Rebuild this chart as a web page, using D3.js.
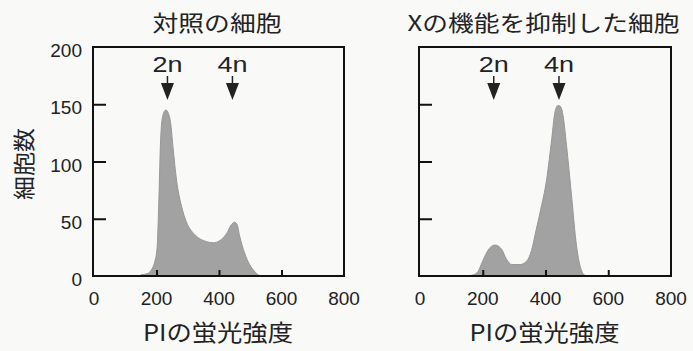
<!DOCTYPE html>
<html>
<head>
<meta charset="utf-8">
<script src="https://cdn.jsdelivr.net/npm/d3@7"></script>
<style>
  body { margin: 0; background: #f9f9f7; }
  svg { display: block; }
</style>
</head>
<body>
<div id="chart"></div>
<script>
// histogram values (PI intensity, cell count)
var ctrlX = [150, 170, 185, 195, 202, 208, 213, 220, 230, 238, 245, 253, 264, 280, 296, 323, 360, 381, 403, 424, 440, 450, 458, 466, 482, 498, 514, 525, 535];
var ctrlY = [1, 2, 6, 13, 25, 70, 118, 140, 145, 142, 134, 112, 84, 61, 47, 36, 30, 29, 31, 37, 45, 47, 45, 35, 20, 10, 4, 1, 0];

var inhX = [150, 170, 185, 195, 208, 224, 240, 250, 261, 275, 293, 319, 340, 355, 370, 383, 404, 420, 430, 440, 448, 456, 467, 483, 499, 510, 520, 530];
var inhY = [0, 1, 4, 10, 18, 25, 27, 26, 23, 15, 10, 10, 13, 22, 40, 56, 85, 120, 143, 149, 148, 140, 114, 70, 26, 9, 2, 0];

var titles = ["対照の細胞", "Xの機能を抑制した細胞"];
var peakLabels = ["2n", "4n"];
var peakPos = [235, 443];
var xTicks = [0, 200, 400, 600, 800];
var yTicks = [0, 50, 100, 150, 200];
var xLabel = "PIの蛍光強度";
var yLabel = "細胞数";

var width = 693, height = 351;
var jp = "'Noto Sans CJK JP', 'Noto Sans', sans-serif";
var latin = "'Liberation Sans', Arial, sans-serif";

var svg = d3.select("#chart").append("svg")
  .attr("width", width)
  .attr("height", height);

var panels = [
  {title: titles[0], xs: ctrlX, ys: ctrlY, left: 94, right: 344, titleW: 129, yLabels: true},
  {title: titles[1], xs: inhX, ys: inhY, left: 420, right: 671, titleW: 272, yLabels: false}
];

var y = d3.scaleLinear().domain([0, 200]).range([276, 47]);

panels.forEach(function(p) {
  var x = d3.scaleLinear().domain([0, 800]).range([p.left, p.right]);
  var cx = (p.left + p.right) / 2;
  var data = p.xs.map(function(v, i) { return {x: v, y: p.ys[i]}; });

  var g = svg.append("g");

  // histogram
  var area = d3.area()
    .x(function(d) { return x(d.x); })
    .y0(y(0))
    .y1(function(d) { return y(d.y); })
    .curve(d3.curveMonotoneX);

  g.append("path")
    .datum(data)
    .attr("d", area)
    .attr("fill", "#a2a2a2")
    .attr("stroke", "#979797")
    .attr("stroke-width", 1);

  // inward ticks
  g.append("g")
    .attr("transform", "translate(0," + y(0) + ")")
    .call(d3.axisTop(x).tickValues(xTicks.slice(1, -1)).tickSize(6).tickFormat(""))
    .call(function(a) { a.select(".domain").remove(); })
    .selectAll("line").attr("stroke", "#111").attr("stroke-width", 2);

  g.append("g")
    .attr("transform", "translate(" + p.left + ",0)")
    .call(d3.axisRight(y).tickValues(yTicks.slice(1, -1)).tickSize(12).tickFormat(""))
    .call(function(a) { a.select(".domain").remove(); })
    .selectAll("line").attr("stroke", "#111").attr("stroke-width", 2);

  // frame
  g.append("rect")
    .attr("x", p.left - 1)
    .attr("y", y(200))
    .attr("width", p.right - p.left + 1)
    .attr("height", y(0) - y(200))
    .attr("fill", "none")
    .attr("stroke", "#111")
    .attr("stroke-width", 2);

  // x tick labels
  g.selectAll(".xl")
    .data(xTicks)
    .enter().append("text")
    .attr("x", function(d) { return x(d); })
    .attr("y", 305)
    .attr("text-anchor", "middle")
    .attr("font-family", latin)
    .attr("font-size", "19px")
    .attr("fill", "#222")
    .text(function(d) { return d; });

  if (p.yLabels) {
    g.selectAll(".yl")
      .data(yTicks)
      .enter().append("text")
      .attr("x", 82)
      .attr("y", function(d) { return y(d) + 10; })
      .attr("text-anchor", "end")
      .attr("font-family", latin)
      .attr("font-size", "19px")
      .attr("fill", "#222")
      .text(function(d) { return d; });
  }

  // peak arrows
  var pk = g.selectAll(".pk")
    .data(peakLabels)
    .enter().append("g")
    .attr("transform", function(d, i) { return "translate(" + x(peakPos[i]) + ",0)"; });

  pk.append("text")
    .attr("y", 72)
    .attr("text-anchor", "middle")
    .attr("font-family", latin)
    .attr("font-size", "22px")
    .attr("textLength", 30)
    .attr("lengthAdjust", "spacingAndGlyphs")
    .attr("fill", "#222")
    .text(function(d) { return d; });

  pk.append("line")
    .attr("y1", 76).attr("y2", 84)
    .attr("stroke", "#222").attr("stroke-width", 1.5);

  pk.append("path")
    .attr("d", "M-6.5,83L6.5,83L0,100Z")
    .attr("fill", "#222");

  // titles
  g.append("text")
    .attr("x", cx - 2)
    .attr("y", 31)
    .attr("text-anchor", "middle")
    .attr("font-family", jp)
    .attr("font-size", "22px")
    .attr("textLength", p.titleW)
    .attr("lengthAdjust", "spacingAndGlyphs")
    .attr("fill", "#222")
    .text(p.title);

  g.append("text")
    .attr("x", cx - 1)
    .attr("y", 341)
    .attr("text-anchor", "middle")
    .attr("font-family", jp)
    .attr("font-size", "23px")
    .attr("textLength", 150)
    .attr("lengthAdjust", "spacingAndGlyphs")
    .attr("fill", "#222")
    .text(xLabel);
});

svg.append("text")
  .attr("transform", "translate(32,164) rotate(-90)")
  .attr("text-anchor", "middle")
  .attr("font-family", jp)
  .attr("font-size", "22px")
  .attr("textLength", 72)
  .attr("lengthAdjust", "spacingAndGlyphs")
  .attr("fill", "#222")
  .text(yLabel);
</script>
</body>
</html>
